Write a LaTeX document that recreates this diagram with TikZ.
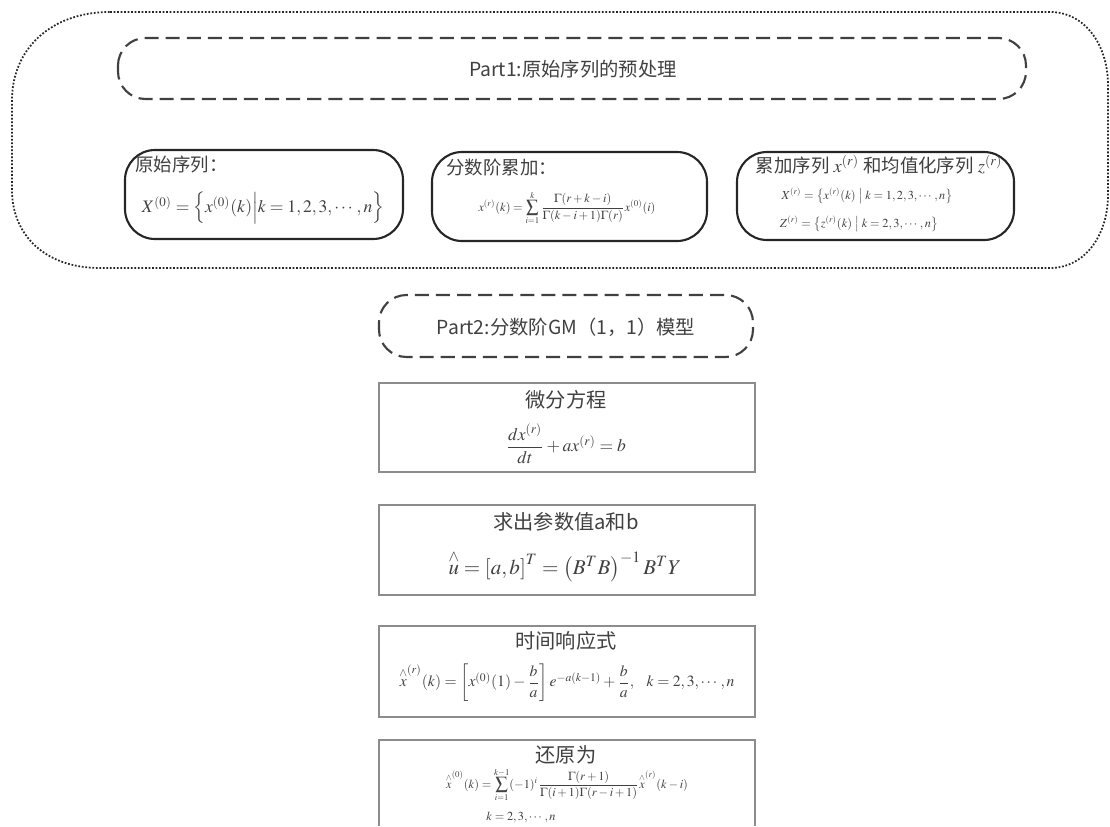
\documentclass[tikz,border=0pt]{standalone}
\usepackage{amsmath}
\usepackage{mathptmx}
\usepackage{fontspec}
\newfontfamily\cjk{Noto Sans CJK SC}
\begin{document}
\begin{tikzpicture}[x=0.02cm,y=-0.02cm,
  every node/.style={font=\cjk, text=black!75, inner sep=0pt},
  outerbox/.style={draw=black!85, line width=1pt, dash pattern=on 1pt off 1pt},
  dbox/.style={draw=black!75, line width=1.2pt, dash pattern=on 8pt off 4pt, rounded corners=0.55cm},
  rbox/.style={draw=black!85, line width=1.2pt, rounded corners=0.6cm},
  gbox/.style={draw=black!45, line width=1pt},
  ttl/.style={font=\cjk\fontsize{10.5}{12}\selectfont},
  pttl/.style={font=\cjk\fontsize{11}{13}\selectfont},
  bttl/.style={font=\cjk\fontsize{11.5}{13}\selectfont}]
\useasboundingbox (0,0) rectangle (1110,826);
% Part 1
\draw[outerbox] (110,12) -- (1050,12) .. controls (1085,12) and (1108,45) .. (1108,85)
  -- (1108,195) .. controls (1108,235) and (1085,268) .. (1050,268)
  -- (100,268) .. controls (45,268) and (12,235) .. (12,190)
  -- (12,100) .. controls (12,50) and (50,12) .. (110,12) -- cycle;
\draw[dbox] (118,38) rectangle (1026,99);
\node[pttl] (p1) at (573,69) {Part1:原始序列的预处理};
\draw[rbox] (125,150) rectangle (403,239);
\node[ttl, anchor=west] (t1) at (135,164) {原始序列：};
\node[font=\normalsize] (f1) at (263,208) {$X^{(0)}=\left\{x^{(0)}(k)\middle|k=1,2,3,\cdots,n\right\}$};
\draw[rbox] (432,152) rectangle (707,241);
\node[ttl, anchor=west] (t2) at (446,167) {分数阶累加：};
\node[font=\scriptsize] (f2) at (567,208) {$\displaystyle x^{(r)}(k)=\sum_{i=1}^{k}\frac{\Gamma(r+k-i)}{\Gamma(k-i+1)\Gamma(r)}x^{(0)}(i)$};
\draw[rbox] (737,152) rectangle (1014,240);
\node[ttl] (t3) at (879,165) {累加序列 $x^{(r)}$ 和均值化序列 $z^{(r)}$};
\node[font=\scriptsize] (f3a) at (867,196) {$X^{(r)}=\bigl\{x^{(r)}(k)\bigm|k=1,2,3,\cdots,n\bigr\}$};
\node[font=\scriptsize] (f3b) at (859,224) {$Z^{(r)}=\bigl\{z^{(r)}(k)\bigm|k=2,3,\cdots,n\bigr\}$};
% Part 2
\draw[dbox] (379,295) rectangle (753,357);
\node[pttl] (p2) at (566,327) {Part2:分数阶GM（1，1）模型};
\draw[gbox] (379,383) rectangle (755,472);
\node[bttl] (b1t) at (566,400) {微分方程};
\node[font=\normalsize] (b1f) at (566,444) {$\dfrac{dx^{(r)}}{dt}+ax^{(r)}=b$};
\draw[gbox] (379,505) rectangle (755,595);
\node[bttl] (b2t) at (566,522) {求出参数值a和b};
\node[font=\large] (b2f) at (565,566) {$\overset{\wedge}{u}=\left[a,b\right]^{T}=\left(B^{T}B\right)^{-1}B^{T}Y$};
\draw[gbox] (379,626) rectangle (755,717);
\node[bttl] (b3t) at (566,641) {时间响应式};
\node[font=\fontsize{8.9}{10}\selectfont] (b3f) at (567,683) {$\overset{\wedge}{x}^{(r)}(k)=\left[x^{(0)}(1)-\dfrac{b}{a}\right]e^{-a(k-1)}+\dfrac{b}{a},\ \ k=2,3,\cdots,n$};
\draw[gbox] (379,826) -- (379,740) -- (755,740) -- (755,826);
\node[bttl] (b4t) at (566,755) {还原为};
\node[font=\scriptsize] (b4f) at (567,785) {$\displaystyle \overset{\wedge}{x}^{(0)}(k)=\sum_{i=1}^{k-1}(-1)^{i}\frac{\Gamma(r+1)}{\Gamma(i+1)\Gamma(r-i+1)}\overset{\wedge}{x}^{(r)}(k-i)$};
\node[font=\scriptsize, anchor=west] (b4k) at (486,817) {$k=2,3,\cdots,n$};
\end{tikzpicture}
\end{document}
